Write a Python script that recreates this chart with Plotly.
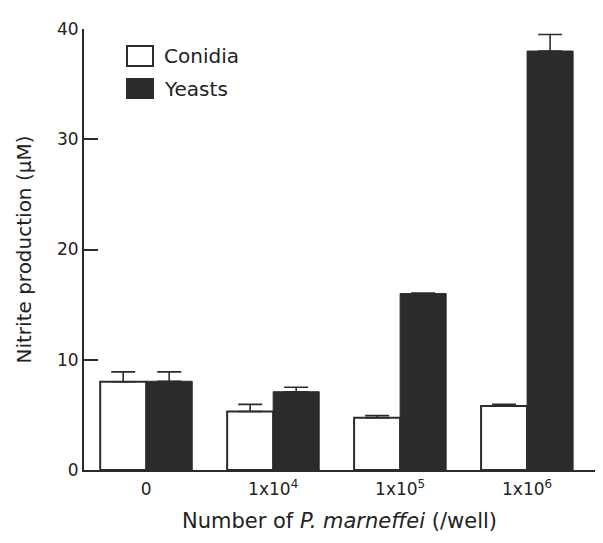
import plotly.graph_objects as go

categories = ["0", "1x10<sup>4</sup>", "1x10<sup>5</sup>", "1x10<sup>6</sup>"]
conidia = [8.0, 5.3, 4.75, 5.8]
conidia_err = [0.9, 0.65, 0.2, 0.15]
yeasts = [8.05, 7.1, 16.0, 38.0]
yeasts_err = [0.85, 0.4, 0.05, 1.5]
series_names = ["Conidia", "Yeasts"]

DARK = "#2b2b2b"
TXT = "#222222"
FONT = "DejaVu Sans"

fig = go.Figure()
fig.add_trace(go.Bar(
    x=categories, y=conidia, name=series_names[0],
    marker=dict(color="white", line=dict(color=DARK, width=2)),
    error_y=dict(type="data", symmetric=False, array=conidia_err,
                 arrayminus=[0] * len(conidia), color=DARK, thickness=1.6, width=12),
    showlegend=False,
))
fig.add_trace(go.Bar(
    x=categories, y=yeasts, name=series_names[1],
    marker=dict(color=DARK, line=dict(color=DARK, width=1)),
    error_y=dict(type="data", symmetric=False, array=yeasts_err,
                 arrayminus=[0] * len(yeasts), color=DARK, thickness=1.6, width=12),
    showlegend=False,
))

# page body has an 8px margin; figure sized to fit the 603x543 window
OFF = 8
W, H = 603 - OFF, 543 - OFF
L, T = 84 - OFF, 29 - OFF
R = W - (595 - OFF)
B = H - (470 - OFF)
pw, ph = W - L - R, H - T - B

def px(xs):
    return (xs - OFF - L) / pw

def py(ys):
    return (H - B - (ys - OFF)) / ph

shapes = [
    dict(type="rect", xref="paper", yref="paper", x0=px(127), x1=px(153), y0=py(66), y1=py(46),
         line=dict(color=DARK, width=2), fillcolor="white"),
    dict(type="rect", xref="paper", yref="paper", x0=px(126), x1=px(154), y0=py(99), y1=py(78),
         line=dict(color=DARK, width=0), fillcolor=DARK),
]
annotations = [
    dict(xref="paper", yref="paper", x=px(162), y=py(56), text=series_names[0], showarrow=False,
         xanchor="left", yanchor="middle", font=dict(family=FONT, size=20, color=TXT)),
    dict(xref="paper", yref="paper", x=px(162), y=py(89), text=series_names[1], showarrow=False,
         xanchor="left", yanchor="middle", font=dict(family=FONT, size=20, color=TXT)),
]

fig.update_layout(
    width=W, height=H,
    margin=dict(l=L, r=R, t=T, b=B),
    paper_bgcolor="white", plot_bgcolor="white",
    barmode="group", bargap=0.275, bargroupgap=0,
    font=dict(family=FONT, color=TXT, size=17),
    shapes=shapes, annotations=annotations,
    xaxis=dict(
        range=[-0.49, 3.535], showgrid=False, zeroline=False, automargin=False,
        showline=True, linecolor=DARK, linewidth=2,
        ticks="", ticklabelstandoff=3,
        tickfont=dict(family=FONT, size=17, color=TXT),
        title=dict(text="Number of <i>P. marneffei</i> (/well)", standoff=15,
                   font=dict(family=FONT, size=21, color=TXT)),
    ),
    yaxis=dict(
        range=[0, 40], tickvals=[0, 10, 20, 30, 40], showgrid=False, zeroline=False,
        automargin=False,
        showline=True, linecolor=DARK, linewidth=2,
        ticks="inside", ticklen=14, tickwidth=1.5, tickcolor=DARK,
        tickfont=dict(family=FONT, size=17, color=TXT),
        title=dict(text="Nitrite production (µM)", standoff=20,
                   font=dict(family=FONT, size=20, color=TXT)),
    ),
)

fig.write_html("out.html")
